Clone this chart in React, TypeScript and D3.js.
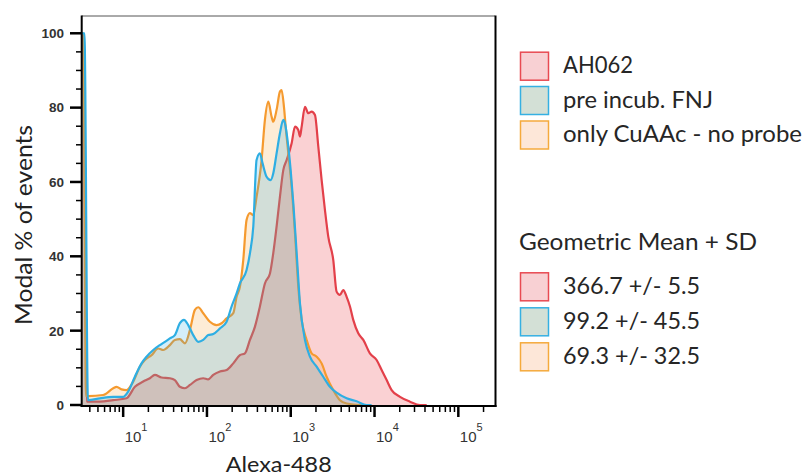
import React from 'react';
import * as d3 from 'd3';

type Pt = [number, number];

// [fluorescence intensity, modal % of events]
const redCurve: Pt[] = [
  [3.2, 100], [3.3, 100], [3.7, 1.0], [3.82, 0.9], [5.27, 0.9], [7.61, 1.3], [10.96, 1.8],
  [13.8, 4.9], [17.34, 6.3], [20.84, 7.2], [23.9, 8.1], [28.7, 7.4], [36.1, 7.2], [41.4, 6.7],
  [47.5, 4.9], [54.6, 4.5], [62.7, 5.4], [75.2, 6.7], [90.3, 7.2], [103.5, 6.9], [118.9, 8.1],
  [142.9, 9.0], [171.5, 9.4], [206.1, 11.2], [247.4, 13.4], [283.9, 13.9], [325.8, 17.5],
  [374.1, 21.1], [428.5, 26.5], [491.8, 32.7], [564.9, 35.4], [618.2, 40.8], [677.8, 48.0],
  [743, 56.0], [814.7, 63.2], [893.2, 65.9], [1025, 70.4], [1124, 74.9], [1231, 74.0],
  [1289, 72.2], [1350, 74.9], [1479, 80.2], [1622, 78.5], [1775, 78.9], [1946, 78.0],
  [2133, 69.5], [2338, 60.5], [2559, 52.5], [2805, 45.3], [3219, 39.0], [3524, 30.5],
  [3864, 29.6], [4237, 30.9], [4645, 29.1], [5093, 26.5], [5572, 22.9], [6397, 19.3],
  [7345, 17.5], [8810, 13.9], [10590, 12.1], [12160, 9.4], [13960, 6.7], [16000, 4.0],
  [20130, 2.2], [26490, 0.9], [34900, 0], [41900, 0],
];

const blueCurve: Pt[] = [
  [3.2, 100], [3.45, 100], [3.8, 1.3], [5.27, 1.8], [7.61, 2.2], [10.0, 2.2], [11.47, 3.6],
  [13.8, 7.6], [16.56, 11.2], [19.01, 13.0], [22.86, 14.8], [27.4, 16.1], [31.5, 17.0],
  [36.1, 17.9], [41.4, 18.8], [47.5, 22.0], [53.1, 22.9], [59.8, 21.5], [68.6, 18.8],
  [78.7, 17.0], [90.3, 17.5], [103.5, 18.8], [118.9, 19.1], [142.9, 20.6], [171.5, 22.4],
  [196.8, 26.5], [225.9, 30.0], [247.4, 32.7], [297.2, 36.3], [325.8, 40.8], [357.2, 48.0],
  [391, 65.9], [428.5, 67.7], [461.4, 65.0], [515.1, 61.4], [575.4, 60.5], [618.2, 62.3],
  [677.8, 67.7], [743, 73.1], [814.7, 76.7], [853.1, 75.8], [935.3, 69.5], [997.7, 63.2],
  [1074, 54.2], [1177, 40.8], [1289, 27.3], [1479, 17.5], [1695, 13.0], [2037, 10.3],
  [2443, 7.6], [2937, 4.9], [3524, 3.3], [4645, 1.8], [6109, 1.0], [8054, 0], [9226, 0],
];

const orangeCurve: Pt[] = [
  [3.2, 100], [3.35, 100], [3.6, 2.4], [3.82, 2.4], [5.78, 2.7], [7.61, 4.5], [8.34, 4.9],
  [9.56, 4.2], [10.96, 4.0], [13.18, 6.3], [15.82, 10.3], [18.16, 12.1], [21.83, 13.4],
  [26.2, 15.2], [30.1, 14.8], [36.1, 16.1], [41.4, 17.5], [47.5, 17.7], [54.6, 16.6],
  [62.7, 20.2], [71.8, 25.6], [78.7, 26.3], [90.3, 24.7], [108.4, 22.4], [130.3, 21.5],
  [149.6, 22.0], [171.5, 23.3], [206.1, 24.7], [225.9, 29.1], [247.4, 31.8], [271.2, 39.0],
  [297.2, 49.8], [325.8, 51.6], [357.2, 51.1], [391.0, 56.0], [448.7, 65.9], [491.8, 76.7],
  [539.5, 81.6], [590.6, 77.6], [618.2, 76.2], [677.8, 79.4], [743.0, 84.3], [778.0, 84.7],
  [829.8, 80.2], [877.0, 74.0], [935.3, 67.7], [1025, 58.7], [1124, 46.2], [1231, 31.8],
  [1350, 22.9], [1549, 17.5], [1775, 13.9], [2037, 13.0], [2338, 11.2], [2679, 7.6],
  [3219, 4.0], [3864, 1.3], [4645, 0.4], [6698, 0], [8810, 0],
];

const legendLabels = ['AH062', 'pre incub. FNJ', 'only CuAAc - no probe'];
const statsTitle = 'Geometric Mean + SD';
const statsLabels = ['366.7 +/- 5.5', '99.2 +/- 45.5', '69.3 +/- 32.5'];
const yMajorTicks = [0, 20, 40, 60, 80, 100];
const xDecades = [10, 100, 1000, 10000, 100000];
const xDecadeExponents = ['1', '2', '3', '4', '5'];
const xAxisTitle = 'Alexa-488';
const yAxisTitle = 'Modal % of events';

const W = 806;
const H = 475;
const LEFT = 81.7;
const RIGHT = 495;
const TOP = 16;
const BASE = 405;

const x = d3.scaleLog().domain([3.2, 274000]).range([LEFT, RIGHT]);
const y = d3.scaleLinear().domain([0, 104.65]).range([BASE, TOP]);

const styles = {
  red: { stroke: '#e3404a', fill: '#e8383f', op: 0.23, swFill: '#f8d0d3', swStroke: '#e84a52' },
  blue: { stroke: '#2eaee3', fill: '#29abe2', op: 0.2, swFill: '#d3e0d6', swStroke: '#35b0e2' },
  orange: { stroke: '#f59a2f', fill: '#f7a030', op: 0.2, swFill: '#fde7d8', swStroke: '#f5aa3c' },
};

const drawOrder = [
  { data: redCurve, s: styles.red },
  { data: orangeCurve, s: styles.orange },
  { data: blueCurve, s: styles.blue },
];
const legendStyles = [styles.red, styles.blue, styles.orange];

const area = d3
  .area<Pt>()
  .x((d) => x(d[0]))
  .y0(y(0))
  .y1((d) => y(d[1]))
  .curve(d3.curveMonotoneX);
const line = d3
  .line<Pt>()
  .x((d) => x(d[0]))
  .y((d) => y(d[1]))
  .curve(d3.curveMonotoneX);

const FONT = 'Lato, "Open Sans", sans-serif';
const AXFONT = '"Liberation Sans", Arial, sans-serif';

export default function App() {
  const xMinor = x.ticks().filter((t) => !xDecades.some((d) => Math.abs(d - t) < 1e-6));
  const yMinor = d3.range(0, 101, 5).filter((v) => !yMajorTicks.includes(v));
  return (
    <div style={{ position: 'absolute', left: 0, top: 0 }}>
      <svg width={W} height={H} style={{ display: 'block', background: '#fff' }}>
        <defs>
          <clipPath id="plot">
            <rect x={LEFT} y={TOP} width={RIGHT - LEFT} height={BASE - TOP + 1} />
          </clipPath>
        </defs>
        <g clipPath="url(#plot)">
          {drawOrder.map((sr, i) => (
            <g key={i}>
              <path d={area(sr.data) || ''} fill={sr.s.fill} fillOpacity={sr.s.op} stroke="none" />
              <path
                d={line(sr.data) || ''}
                fill="none"
                stroke={sr.s.stroke}
                strokeWidth={2.2}
                strokeLinejoin="round"
              />
            </g>
          ))}
        </g>
        {/* frame */}
        <line x1={LEFT} x2={RIGHT} y1={TOP} y2={TOP} stroke="#555" strokeWidth={1} />
        <line x1={RIGHT + 0.5} x2={RIGHT + 0.5} y1={TOP - 0.5} y2={BASE + 2} stroke="#000" strokeWidth={2} />
        <line x1={LEFT} x2={LEFT} y1={TOP - 0.5} y2={BASE + 2} stroke="#000" strokeWidth={2} />
        <line x1={LEFT - 1} x2={RIGHT + 1.5} y1={BASE + 1} y2={BASE + 1} stroke="#000" strokeWidth={2} />
        {/* y ticks */}
        {yMajorTicks.map((v) => (
          <g key={'ym' + v}>
            <line x1={70} x2={LEFT} y1={y(v)} y2={y(v)} stroke="#000" strokeWidth={2.5} />
            <text
              x={64}
              y={y(v)}
              dy="0.36em"
              textAnchor="end"
              fontFamily={AXFONT}
              fontSize={13.5}
              fontWeight="bold"
              fill="#333"
            >
              {v}
            </text>
          </g>
        ))}
        {yMinor.map((v) => (
          <line key={'yn' + v} x1={76} x2={LEFT} y1={y(v)} y2={y(v)} stroke="#000" strokeWidth={1.5} />
        ))}
        {/* x ticks */}
        {xMinor.map((t) => (
          <line key={'xn' + t} x1={x(t)} x2={x(t)} y1={BASE + 1} y2={BASE + 7} stroke="#000" strokeWidth={1.5} />
        ))}
        {xDecades.map((t, i) => (
          <g key={'xm' + t}>
            <line x1={x(t)} x2={x(t)} y1={BASE + 1} y2={BASE + 12} stroke="#000" strokeWidth={2.5} />
            <text x={x(t) + 1.5} y={441.5} fontFamily={AXFONT} fontSize={15} fill="#333">
              10
              <tspan fontSize={11} dy={-10.5}>
                {xDecadeExponents[i]}
              </tspan>
            </text>
          </g>
        ))}
        {/* axis titles */}
        <text
          x={225.7}
          y={471.5}
          fontFamily={FONT}
          fontSize={22}
          fill="#222"
          textLength={106}
          lengthAdjust="spacingAndGlyphs"
        >
          {xAxisTitle}
        </text>
        <text
          transform="translate(31.5,325) rotate(-90)"
          x={0}
          y={0}
          fontFamily={FONT}
          fontSize={23}
          fill="#222"
          textLength={200}
          lengthAdjust="spacingAndGlyphs"
        >
          {yAxisTitle}
        </text>
        {/* legend */}
        {legendLabels.map((lab, i) => {
          const top = [51.7, 86, 120.5][i];
          const widths = [70, 150, 239];
          return (
            <g key={'lg' + i}>
              <rect
                x={520.5}
                y={top + 0.5}
                width={28}
                height={28}
                fill={legendStyles[i].swFill}
                stroke={legendStyles[i].swStroke}
                strokeWidth={1.5}
              />
              <text
                x={563}
                y={top + 21.5}
                fontFamily={FONT}
                fontSize={24}
                fill="#262626"
                textLength={widths[i]}
                lengthAdjust="spacingAndGlyphs"
              >
                {lab}
              </text>
            </g>
          );
        })}
        <text
          x={519}
          y={250}
          fontFamily={FONT}
          fontSize={24}
          fill="#262626"
          textLength={238}
          lengthAdjust="spacingAndGlyphs"
        >
          {statsTitle}
        </text>
        {statsLabels.map((lab, i) => {
          const top = [272.3, 307.3, 342.3][i];
          return (
            <g key={'st' + i}>
              <rect
                x={520.5}
                y={top + 0.5}
                width={28}
                height={28}
                fill={legendStyles[i].swFill}
                stroke={legendStyles[i].swStroke}
                strokeWidth={1.5}
              />
              <text
                x={563}
                y={top + 21.7}
                fontFamily={FONT}
                fontSize={24}
                fill="#262626"
                textLength={137}
                lengthAdjust="spacingAndGlyphs"
              >
                {lab}
              </text>
            </g>
          );
        })}
      </svg>
    </div>
  );
}
